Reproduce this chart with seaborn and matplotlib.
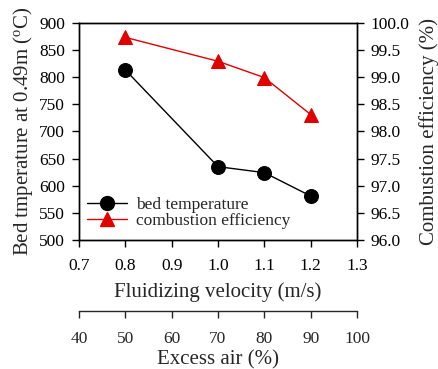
import matplotlib
matplotlib.use("Agg")
import matplotlib.pyplot as plt
import seaborn as sns
import pandas as pd
from matplotlib.lines import Line2D

velocity = [0.8, 1.0, 1.1, 1.2]
bed_temp = [813, 635, 624, 581]
comb_eff = [99.73, 99.29, 98.99, 98.31]
x_ticks = [0.7, 0.8, 0.9, 1.0, 1.1, 1.2, 1.3]
excess_ticks = [40, 50, 60, 70, 80, 90, 100]

sns.set_style("ticks")
plt.rcParams['font.family'] = ['Liberation Serif', 'DejaVu Serif']
plt.rcParams['mathtext.fontset'] = 'custom'
plt.rcParams['mathtext.rm'] = 'Liberation Serif'
plt.rcParams['mathtext.it'] = 'Liberation Serif:italic'

df = pd.DataFrame({"v": velocity, "T": bed_temp, "E": comb_eff})

TICK_FS = 12.5
LABEL_FS = 15

fig = plt.figure(figsize=(4.38, 3.69), dpi=100)
ax = fig.add_axes([0.1804, 0.3496, 0.815 - 0.1804, 0.9385 - 0.3496])
ax2 = ax.twinx()

sns.lineplot(data=df, x="v", y="T", ax=ax, color="black", marker="o",
             markersize=10, linewidth=1.0, markeredgecolor="black")
sns.lineplot(data=df, x="v", y="E", ax=ax2, color="#e00000", marker="^",
             markersize=10, linewidth=1.0, markeredgecolor="#e00000")

ax.set_xlim(0.7, 1.3)
ax.set_ylim(500, 900)
ax2.set_ylim(96.0, 100.0)
ax.set_xticks(x_ticks)
ax.set_xticklabels([f"{t:.1f}" for t in x_ticks])
ax.set_yticks(range(500, 901, 50))
ax2.set_yticks([96.0 + 0.5 * i for i in range(9)])
ax2.set_yticklabels([f"{96.0 + 0.5 * i:.1f}" for i in range(9)])

for a in (ax, ax2):
    a.tick_params(labelsize=TICK_FS, length=5, width=1, direction="out", colors="black", pad=5)
    for s in a.spines.values():
        s.set_visible(True)
        s.set_linewidth(1.0)
        s.set_color("black")
ax.tick_params(axis="x", pad=8)

ax.set_xlabel("Fluidizing velocity (m/s)", fontsize=LABEL_FS, labelpad=6)
ax.set_ylabel(r"Bed tmperature at 0.49m ($^{\mathrm{o}}$C)", fontsize=LABEL_FS, labelpad=3)
ax2.set_ylabel("Combustion efficiency (%)", fontsize=LABEL_FS, labelpad=7)

sec = ax.secondary_xaxis(-0.327, functions=(lambda v: 100 * (v - 0.3), lambda e: e / 100 + 0.3))
sec.set_xticks(excess_ticks)
sec.set_xticklabels([str(t) for t in excess_ticks])
sec.tick_params(labelsize=TICK_FS, length=5, width=1, direction="out", pad=9)
sec.set_xlabel("Excess air (%)", fontsize=LABEL_FS, labelpad=3)
sec.spines['bottom'].set_linewidth(1.0)

handles = [
    Line2D([], [], color="black", marker="o", markersize=10, linewidth=1.0),
    Line2D([], [], color="#e00000", marker="^", markersize=10, linewidth=1.0),
]
ax.legend(handles, ["bed temperature", "combustion efficiency"], loc="lower left",
          bbox_to_anchor=(-0.015, -0.005), frameon=False, fontsize=TICK_FS,
          handlelength=2.3, handletextpad=0.5, labelspacing=0.0, borderaxespad=0.3)

fig.savefig("out.png", dpi=100)
